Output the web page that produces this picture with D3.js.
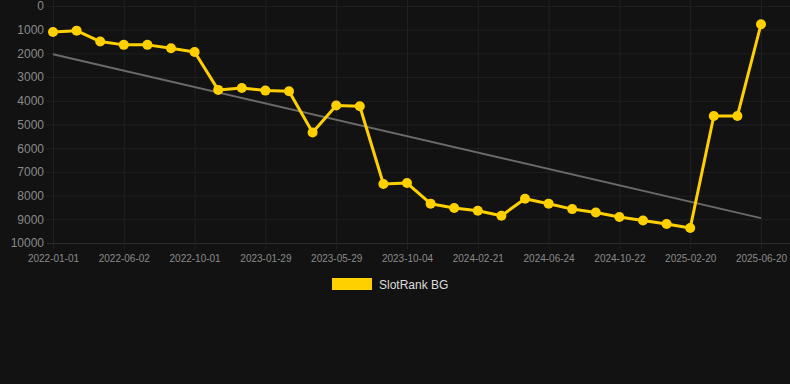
<!DOCTYPE html>
<html>
<head>
<meta charset="utf-8">
<script src="https://cdn.jsdelivr.net/npm/d3@7"></script>
<style>
  html, body { margin: 0; padding: 0; background: #121212; }
  svg { display: block; font-family: "Liberation Sans", Arial, sans-serif; }
</style>
</head>
<body>
<svg id="chart" width="790" height="384"></svg>
<script>
const dates = [
    '2022-01-01', '2022-02-20', '2022-04-11', '2022-06-02', '2022-07-12', '2022-08-21',
    '2022-10-01', '2022-11-09', '2022-12-20', '2023-01-29', '2023-03-10', '2023-04-19',
    '2023-05-29', '2023-07-08', '2023-08-26', '2023-10-04', '2023-11-19', '2024-01-05',
    '2024-02-21', '2024-04-02', '2024-05-13', '2024-06-24', '2024-08-03', '2024-09-12',
    '2024-10-22', '2024-12-01', '2025-01-10', '2025-02-20', '2025-03-31', '2025-05-10',
    '2025-06-20'
];
const ranks = [
    1100, 1040, 1500, 1640, 1640, 1780, 1940, 3540, 3460, 3570, 3600, 5340, 4200, 4230,
    7510, 7470, 8340, 8520, 8640, 8850, 8130, 8340, 8570, 8710, 8900, 9050, 9200, 9370,
    4640, 4640, 770
];
const trendValues = [2040, 8950];
const xTickLabels = [
    '2022-01-01', '2022-06-02', '2022-10-01', '2023-01-29', '2023-05-29', '2023-10-04',
    '2024-02-21', '2024-06-24', '2024-10-22', '2025-02-20', '2025-06-20'
];
const yTicks = [0, 1000, 2000, 3000, 4000, 5000, 6000, 7000, 8000, 9000, 10000];
const seriesName = 'SlotRank BG';

const svg = d3.select('#chart');
const plot = { left: 53, right: 761, top: 6, bottom: 243, gridRight: 790 };
const yellow = '#ffd000';

const x = d3.scalePoint().domain(dates).range([plot.left, plot.right]);
const y = d3.scaleLinear().domain([0, 10000]).range([plot.top, plot.bottom]);

svg.append('rect').attr('width', 790).attr('height', 384).attr('fill', '#121212');

// grid
const grid = svg.append('g');
grid.selectAll('.hg').data(yTicks).join('line')
    .attr('x1', plot.left - 6).attr('x2', plot.gridRight)
    .attr('y1', d => y(d) + 0.5).attr('y2', d => y(d) + 0.5)
    .attr('stroke', d => d === 10000 ? '#2c2c2c' : '#202020');
grid.selectAll('.vg').data(xTickLabels).join('line')
    .attr('x1', d => x(d) + 0.5).attr('x2', d => x(d) + 0.5)
    .attr('y1', plot.top - 6).attr('y2', plot.bottom + 6)
    .attr('stroke', '#202020');

// axes
const yAxis = svg.append('g')
    .attr('transform', `translate(${plot.left - 9},0)`)
    .call(d3.axisLeft(y).tickValues(yTicks).tickSize(0).tickPadding(0).tickFormat(d3.format('d')));
yAxis.select('.domain').remove();
yAxis.selectAll('text').attr('fill', '#8a8a8a').attr('font-size', 12)
    .attr('font-family', '"Liberation Sans", Arial, sans-serif');

const xAxis = svg.append('g')
    .attr('transform', `translate(0,${plot.bottom})`)
    .call(d3.axisBottom(x).tickValues(xTickLabels).tickSize(0).tickPadding(12));
xAxis.select('.domain').remove();
xAxis.selectAll('text').attr('fill', '#8a8a8a').attr('font-size', 10)
    .attr('font-family', '"Liberation Sans", Arial, sans-serif');

// trend line
svg.append('line')
    .attr('x1', x(dates[0])).attr('y1', y(trendValues[0]))
    .attr('x2', x(dates[dates.length - 1])).attr('y2', y(trendValues[1]))
    .attr('stroke', '#6a6a6a').attr('stroke-width', 2);

// series
const data = dates.map((d, i) => ({ date: d, rank: ranks[i] }));
svg.append('path')
    .datum(data)
    .attr('fill', 'none')
    .attr('stroke', yellow)
    .attr('stroke-width', 3)
    .attr('stroke-linejoin', 'round')
    .attr('d', d3.line().x(d => x(d.date)).y(d => y(d.rank)));

svg.selectAll('.pt').data(data).join('circle')
    .attr('cx', d => x(d.date)).attr('cy', d => y(d.rank))
    .attr('r', 5).attr('fill', yellow);

// legend
const legend = svg.append('g').attr('transform', 'translate(332,278)');
legend.append('rect').attr('width', 40).attr('height', 12).attr('fill', yellow);
legend.append('text').attr('x', 47).attr('y', 11)
    .attr('fill', '#dddddd').attr('font-size', 12)
    .text(seriesName);
</script>
</body>
</html>
